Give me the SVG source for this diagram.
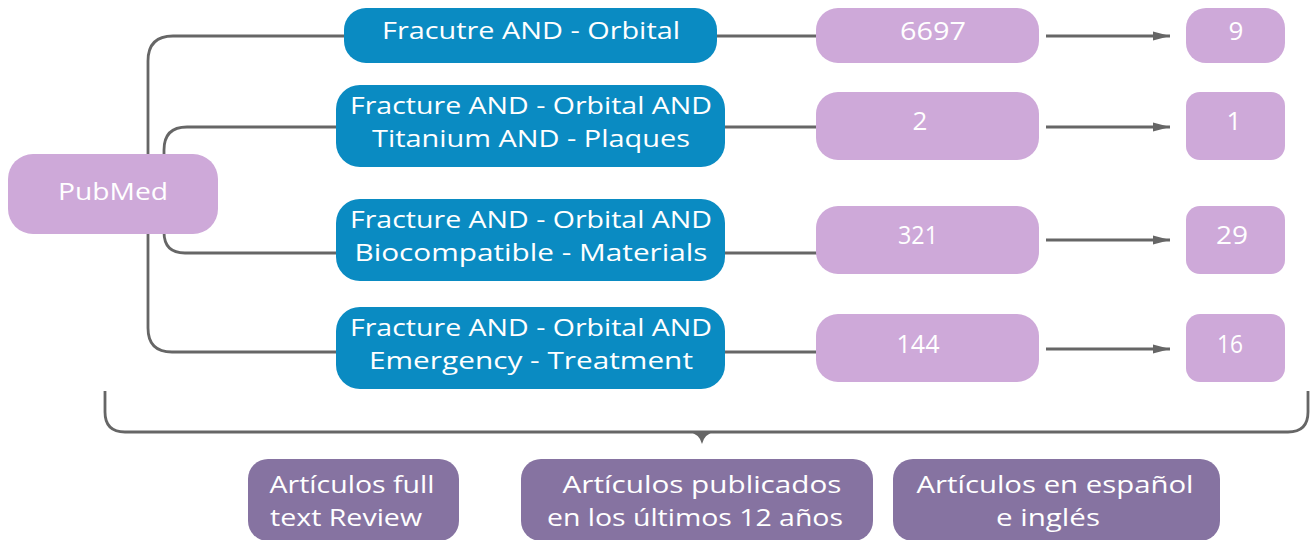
<svg xmlns="http://www.w3.org/2000/svg" width="1313" height="540" viewBox="0 0 1313 540">
<defs>
<style>
.t{font-family:"Open Sans","Noto Sans","Liberation Sans",sans-serif;font-size:24px;fill:#ffffff;text-anchor:middle}
.n{font-size:26px}
.lt{fill:#CEA9D9}
.bl{fill:#0A8BC2}
.dk{fill:#8673A1}
.c{fill:none;stroke:#666666;stroke-width:2.8}
</style>
<marker id="ah" markerWidth="18" markerHeight="10" refX="17" refY="5" orient="auto" markerUnits="userSpaceOnUse">
<path d="M0,0.5 L17,5 L0,9.5 Z" fill="#666666"/>
</marker>
</defs>
<rect width="1313" height="540" fill="#ffffff"/>
<g id="connectors">
<path class="c" d="M148,156 V61 Q148,36 173,36 H346"/>
<path class="c" d="M148,232 V328 Q148,352 172,352 H338"/>
<path class="c" d="M164,156 V150 Q164,127 187,127 H338"/>
<path class="c" d="M164,232 V232 Q164,253 185,253 H338"/>
<path class="c" d="M716,36 H818"/>
<path class="c" d="M724,127 H818"/>
<path class="c" d="M724,253 H818"/>
<path class="c" d="M724,352 H818"/>
<path class="c" d="M1046,36 H1170" marker-end="url(#ah)"/>
<path class="c" d="M1046,127 H1170" marker-end="url(#ah)"/>
<path class="c" d="M1046,240 H1170" marker-end="url(#ah)"/>
<path class="c" d="M1046,349 H1170" marker-end="url(#ah)"/>
<path class="c" d="M105,391 V412 Q105,432 125,432 H1288 Q1308,432 1308,412 V391"/>
<path d="M687,431 H716 Q704,434 702,444 Q700,434 687,431 Z" fill="#666666"/>
</g>
<g id="pubmed">
<rect class="lt" x="8" y="154" width="210" height="80" rx="25"/>
<text class="t" x="113" y="200" textLength="110" lengthAdjust="spacingAndGlyphs">PubMed</text>
</g>
<g id="q1">
<rect class="bl" x="344" y="8" width="373" height="55" rx="22"/>
<text class="t" x="531" y="39" textLength="298" lengthAdjust="spacingAndGlyphs">Fracutre AND - Orbital</text>
</g>
<g id="q2">
<rect class="bl" x="336" y="85" width="389" height="82" rx="24"/>
<text class="t" x="531" y="114" textLength="362" lengthAdjust="spacingAndGlyphs">Fracture AND - Orbital AND</text>
<text class="t" x="531" y="147" textLength="318" lengthAdjust="spacingAndGlyphs">Titanium AND - Plaques</text>
</g>
<g id="q3">
<rect class="bl" x="336" y="199" width="389" height="82" rx="24"/>
<text class="t" x="531" y="228" textLength="362" lengthAdjust="spacingAndGlyphs">Fracture AND - Orbital AND</text>
<text class="t" x="531" y="261" textLength="353" lengthAdjust="spacingAndGlyphs">Biocompatible - Materials</text>
</g>
<g id="q4">
<rect class="bl" x="336" y="307" width="389" height="82" rx="24"/>
<text class="t" x="531" y="336" textLength="362" lengthAdjust="spacingAndGlyphs">Fracture AND - Orbital AND</text>
<text class="t" x="531" y="369" textLength="324" lengthAdjust="spacingAndGlyphs">Emergency - Treatment</text>
</g>
<g id="n6697">
<rect class="lt" x="816" y="8" width="223" height="55" rx="22"/>
<text class="t n" x="933" y="40" textLength="66" lengthAdjust="spacingAndGlyphs">6697</text>
</g>
<g id="n2">
<rect class="lt" x="816" y="92" width="223" height="68" rx="22"/>
<text class="t n" x="920" y="130">2</text>
</g>
<g id="n321">
<rect class="lt" x="816" y="206" width="223" height="68" rx="22"/>
<text class="t n" x="918" y="244" textLength="40" lengthAdjust="spacingAndGlyphs">321</text>
</g>
<g id="n144">
<rect class="lt" x="816" y="314" width="223" height="68" rx="22"/>
<text class="t n" x="918" y="353" textLength="43" lengthAdjust="spacingAndGlyphs">144</text>
</g>
<g id="n9">
<rect class="lt" x="1186" y="8" width="99" height="55" rx="20"/>
<text class="t n" x="1236" y="40">9</text>
</g>
<g id="n1">
<rect class="lt" x="1186" y="92" width="99" height="68" rx="14"/>
<text class="t n" x="1234" y="130">1</text>
</g>
<g id="n29">
<rect class="lt" x="1186" y="206" width="99" height="68" rx="14"/>
<text class="t n" x="1232" y="244" textLength="32" lengthAdjust="spacingAndGlyphs">29</text>
</g>
<g id="n16">
<rect class="lt" x="1186" y="314" width="99" height="68" rx="14"/>
<text class="t n" x="1230" y="353" textLength="26" lengthAdjust="spacingAndGlyphs">16</text>
</g>
<g id="f1">
<rect class="dk" x="248" y="459" width="211" height="82" rx="20"/>
<text class="t" x="352" y="493" textLength="165" lengthAdjust="spacingAndGlyphs">Artículos full</text>
<text class="t" x="346" y="526" textLength="152" lengthAdjust="spacingAndGlyphs">text Review</text>
</g>
<g id="f2">
<rect class="dk" x="521" y="459" width="352" height="82" rx="20"/>
<text class="t" x="702" y="493" textLength="279" lengthAdjust="spacingAndGlyphs">Artículos publicados</text>
<text class="t" x="695" y="526" textLength="296" lengthAdjust="spacingAndGlyphs">en los últimos 12 años</text>
</g>
<g id="f3">
<rect class="dk" x="893" y="459" width="327" height="82" rx="20"/>
<text class="t" x="1055" y="493" textLength="277" lengthAdjust="spacingAndGlyphs">Artículos en español</text>
<text class="t" x="1048" y="526" textLength="104" lengthAdjust="spacingAndGlyphs">e inglés</text>
</g>
</svg>
